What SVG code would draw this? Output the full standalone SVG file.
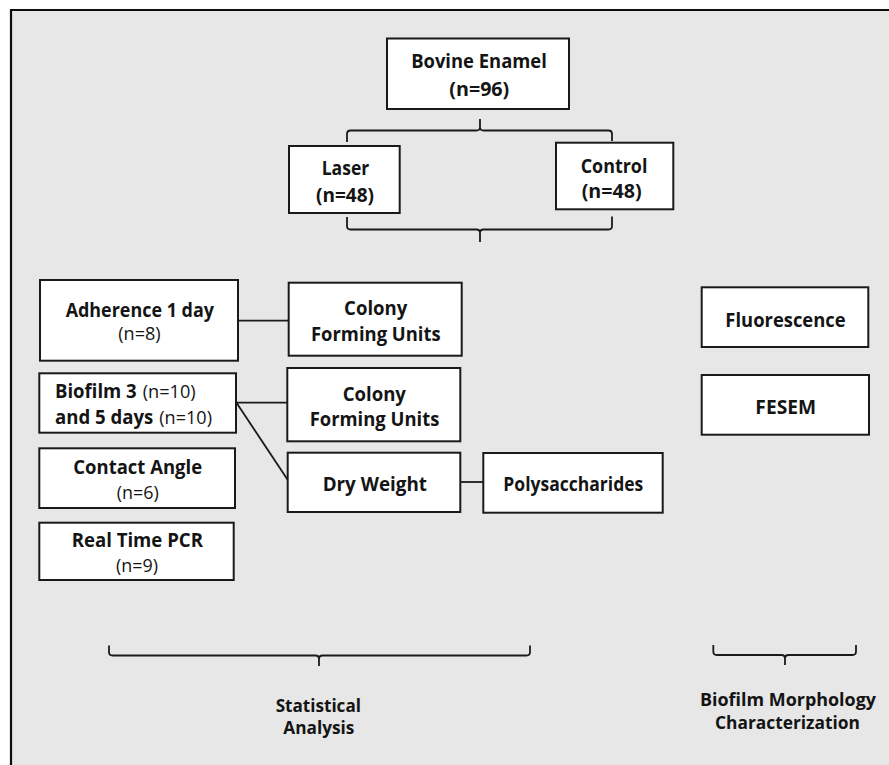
<svg xmlns="http://www.w3.org/2000/svg" width="889" height="765" viewBox="0 0 889 765">
<style>
.box{fill:#ffffff;stroke:#1a1a1a;stroke-width:2}
.b{font-family:"Open Sans","Liberation Sans",sans-serif;font-weight:bold;font-size:19px;fill:#141414;text-anchor:middle}
.r{font-family:"Open Sans","Liberation Sans",sans-serif;font-weight:normal;font-size:18px;fill:#141414;text-anchor:middle}
.lbl{font-family:"Open Sans","Liberation Sans",sans-serif;font-weight:bold;font-size:18px;fill:#141414;text-anchor:middle}
.ln{fill:none;stroke:#1a1a1a;stroke-width:1.8}
.br{fill:none;stroke:#1a1a1a;stroke-width:1.8;stroke-linejoin:round}
</style>
<rect x="0" y="0" width="889" height="765" fill="#ffffff"/>
<rect x="11" y="10" width="878" height="755" fill="#e6e7e6"/>
<path d="M11,765 V10 H889" fill="none" stroke="#0d0d0d" stroke-width="2.2"/>

<g id="connectors">
  <path class="br" d="M347,142 V134 Q347,130.5 350.5,130.5 H476.5 Q480,130.5 480,127 V119 M480,127 Q480,130.5 483.5,130.5 H608.5 Q612,130.5 612,134 V141"/>
  <path class="br" d="M347,217 V226 Q347,229.5 350.5,229.5 H476.5 Q480,229.5 480,233 V242 M480,233 Q480,229.5 483.5,229.5 H608.5 Q612,229.5 612,226 V216.5"/>
  <path class="br" d="M109,645.5 V652 Q109,655.5 112.5,655.5 H315.5 Q319,655.5 319,659 V666 M319,659 Q319,655.5 322.5,655.5 H526.5 Q530,655.5 530,652 V645.5"/>
  <path class="br" d="M713.3,645 V651.5 Q713.3,655 716.8,655 H781.5 Q785,655 785,658.5 V665 M785,658.5 Q785,655 788.5,655 H852.5 Q856,655 856,651.5 V645"/>
  <line class="ln" x1="238" y1="320.7" x2="289" y2="320.7"/>
  <line class="ln" x1="236" y1="402.7" x2="287.5" y2="402.7"/>
  <line class="ln" x1="236.5" y1="402.7" x2="288.3" y2="480.7"/>
  <line class="ln" x1="460.3" y1="482" x2="483.3" y2="482"/>
</g>

<g id="bovine">
  <rect class="box" x="387" y="38.5" width="182" height="70.5"/>
  <text class="b" x="479" y="68.3" textLength="135.7" lengthAdjust="spacingAndGlyphs">Bovine Enamel</text>
  <text class="b" x="479.3" y="96" textLength="60" lengthAdjust="spacingAndGlyphs">(n=96)</text>
</g>
<g id="laser">
  <rect class="box" x="289" y="146" width="110.7" height="67"/>
  <text class="b" x="345.5" y="175" textLength="47.6" lengthAdjust="spacingAndGlyphs">Laser</text>
  <text class="b" x="345" y="202" textLength="58" lengthAdjust="spacingAndGlyphs">(n=48)</text>
</g>
<g id="control">
  <rect class="box" x="556" y="142.7" width="117.3" height="66.6"/>
  <text class="b" x="614" y="172.7" textLength="66.7" lengthAdjust="spacingAndGlyphs">Control</text>
  <text class="b" x="611.7" y="198.3" textLength="60" lengthAdjust="spacingAndGlyphs">(n=48)</text>
</g>

<g id="adherence">
  <rect class="box" x="40" y="280" width="198" height="80.7"/>
  <text class="b" x="139.8" y="316.7" textLength="148.3" lengthAdjust="spacingAndGlyphs">Adherence 1 day</text>
  <text class="r" x="139.5" y="340" textLength="42.4" lengthAdjust="spacingAndGlyphs">(n=8)</text>
</g>
<g id="cfu1">
  <rect class="box" x="288.7" y="282.7" width="173" height="73"/>
  <text class="b" x="375.7" y="315" textLength="63.3" lengthAdjust="spacingAndGlyphs">Colony</text>
  <text class="b" x="375.8" y="340.7" textLength="129.7" lengthAdjust="spacingAndGlyphs">Forming Units</text>
</g>
<g id="biofilm">
  <rect class="box" x="39.3" y="373.3" width="196.7" height="59.4"/>
  <text y="398.3"><tspan class="b" x="55" style="text-anchor:start" textLength="81.7" lengthAdjust="spacingAndGlyphs">Biofilm 3</tspan><tspan class="r" x="142.7" style="text-anchor:start" textLength="53" lengthAdjust="spacingAndGlyphs">(n=10)</tspan></text>
  <text y="424.3"><tspan class="b" x="55" style="text-anchor:start" textLength="98.3" lengthAdjust="spacingAndGlyphs">and 5 days</tspan><tspan class="r" x="159.3" style="text-anchor:start" textLength="52.7" lengthAdjust="spacingAndGlyphs">(n=10)</tspan></text>
</g>
<g id="cfu2">
  <rect class="box" x="287.3" y="368" width="173" height="73.3"/>
  <text class="b" x="374.3" y="400.7" textLength="63.3" lengthAdjust="spacingAndGlyphs">Colony</text>
  <text class="b" x="374.5" y="425.7" textLength="129.7" lengthAdjust="spacingAndGlyphs">Forming Units</text>
</g>
<g id="contact">
  <rect class="box" x="39.3" y="448.3" width="195.7" height="59.7"/>
  <text class="b" x="137.7" y="474" textLength="128.7" lengthAdjust="spacingAndGlyphs">Contact Angle</text>
  <text class="r" x="137.7" y="499.3" textLength="42" lengthAdjust="spacingAndGlyphs">(n=6)</text>
</g>
<g id="dryweight">
  <rect class="box" x="287.7" y="452.7" width="172.6" height="59.3"/>
  <text class="b" x="374.8" y="490.7" textLength="104.3" lengthAdjust="spacingAndGlyphs">Dry Weight</text>
</g>
<g id="polysaccharides">
  <rect class="box" x="483.3" y="453" width="179.4" height="59.7"/>
  <text class="b" x="573.3" y="490.7" textLength="140" lengthAdjust="spacingAndGlyphs">Polysaccharides</text>
</g>
<g id="realtime">
  <rect class="box" x="39.3" y="522.7" width="194.4" height="57.3"/>
  <text class="b" x="137.3" y="547.3" textLength="131.3" lengthAdjust="spacingAndGlyphs">Real Time PCR</text>
  <text class="r" x="137" y="572.3" textLength="42" lengthAdjust="spacingAndGlyphs">(n=9)</text>
</g>
<g id="fluorescence">
  <rect class="box" x="701.7" y="287.3" width="166.6" height="59.7"/>
  <text class="b" x="785.5" y="326.7" textLength="120.3" lengthAdjust="spacingAndGlyphs">Fluorescence</text>
</g>
<g id="fesem">
  <rect class="box" x="701.7" y="375" width="167.3" height="59.7"/>
  <text class="b" x="785.7" y="414" textLength="60.7" lengthAdjust="spacingAndGlyphs">FESEM</text>
</g>

<g id="statistical">
  <text class="lbl" x="318.3" y="711.7" textLength="85.3" lengthAdjust="spacingAndGlyphs">Statistical</text>
  <text class="lbl" x="318.8" y="734" textLength="71" lengthAdjust="spacingAndGlyphs">Analysis</text>
</g>
<g id="morphology">
  <text class="lbl" x="788" y="706" textLength="176" lengthAdjust="spacingAndGlyphs">Biofilm Morphology</text>
  <text class="lbl" x="787.5" y="729.3" textLength="145" lengthAdjust="spacingAndGlyphs">Characterization</text>
</g>
</svg>
